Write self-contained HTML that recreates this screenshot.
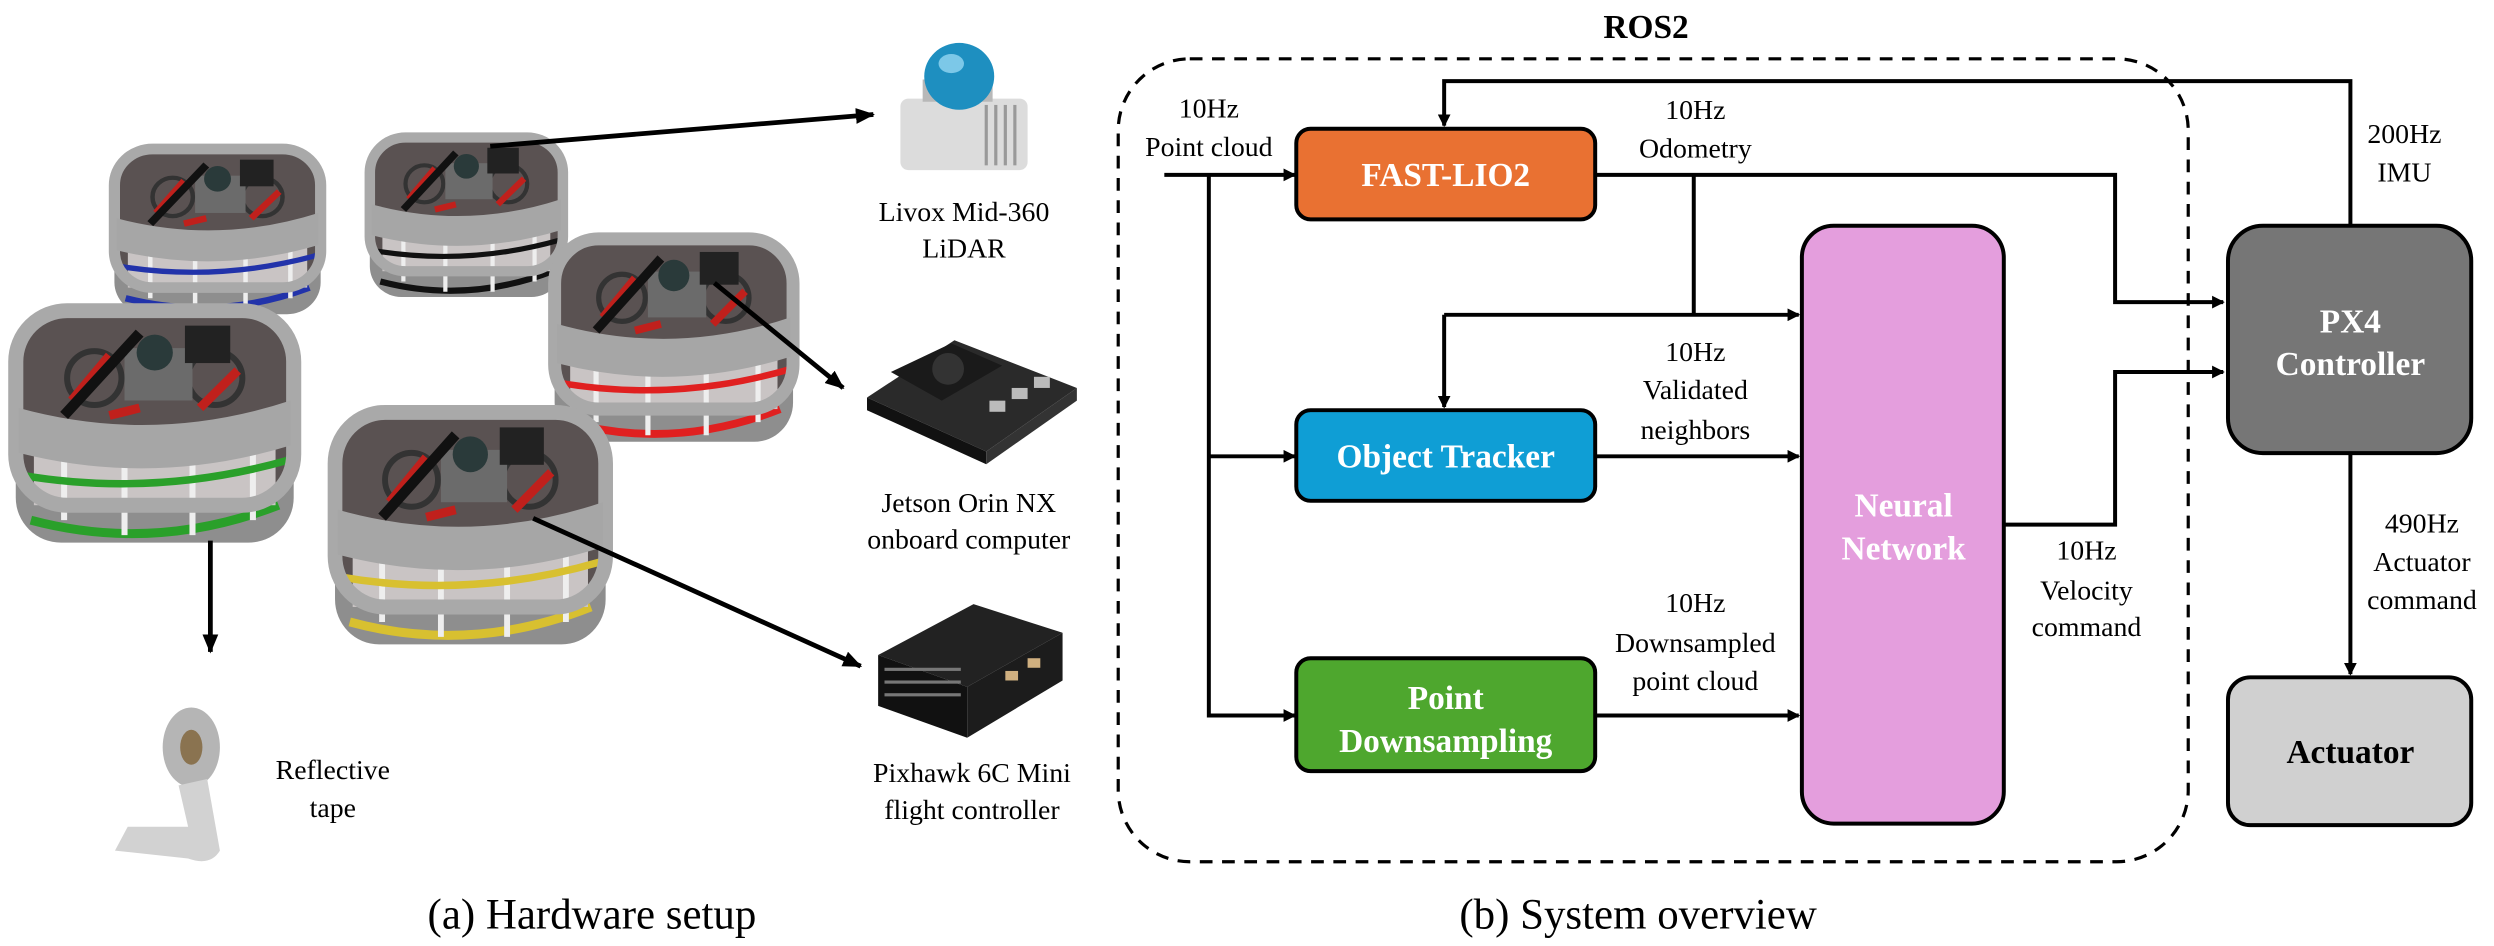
<!DOCTYPE html>
<html><head><meta charset="utf-8"><style>
html,body{margin:0;padding:0;background:#fff;}
svg{display:block;}
text{font-family:"Liberation Serif",serif;}
</style></head><body>
<svg width="2494" height="946" viewBox="0 0 1568 595" xmlns="http://www.w3.org/2000/svg">
<defs>
<marker id="ah" markerWidth="8" markerHeight="8" refX="7" refY="4" orient="auto" markerUnits="userSpaceOnUse">
<path d="M0,0 L8,4 L0,8 z" fill="#000"/></marker>
<marker id="ah2" markerWidth="12" markerHeight="10" refX="11" refY="5" orient="auto" markerUnits="userSpaceOnUse">
<path d="M0,0 L12,5 L0,10 z" fill="#000"/></marker>
<symbol id="drone" viewBox="0 0 200 170" preserveAspectRatio="none">
<rect x="8" y="85" width="184" height="80" rx="30" fill="#8e8e8e"/>
<path d="M18,150 Q100,172 182,140" stroke="currentColor" stroke-width="6" fill="none"/>
<rect x="8" y="10" width="184" height="130" rx="34" fill="#5a5252"/>
<rect x="20" y="95" width="160" height="45" fill="#c9c4c4"/>
<g stroke="#eee" stroke-width="4"><line x1="40" y1="95" x2="40" y2="150"/><line x1="80" y1="100" x2="80" y2="160"/><line x1="125" y1="100" x2="125" y2="160"/><line x1="165" y1="95" x2="165" y2="150"/></g>
<path d="M12,120 Q100,135 188,110" stroke="currentColor" stroke-width="5" fill="none"/>
<rect x="8" y="10" width="184" height="130" rx="34" fill="none" stroke="#a9a9a9" stroke-width="10"/>
<path d="M10,75 Q100,100 190,70 L190,100 Q100,128 10,105 z" fill="#a6a6a6"/>
<circle cx="60" cy="55" r="18" fill="none" stroke="#333" stroke-width="4"/>
<circle cx="140" cy="55" r="18" fill="none" stroke="#333" stroke-width="4"/>
<path d="M45,70 L70,40 M130,75 L155,50 M70,80 L90,75" stroke="#c0201c" stroke-width="6"/>
<rect x="80" y="35" width="45" height="35" fill="#6b6b6b"/>
<circle cx="100" cy="38" r="12" fill="#2a3a3a"/>
<rect x="120" y="20" width="30" height="25" fill="#222"/>
<line x1="40" y1="80" x2="90" y2="25" stroke="#111" stroke-width="7"/>
</symbol>
</defs>

<use href="#drone" x="66" y="87" width="141" height="114" style="color:#2233aa"/>
<use href="#drone" x="227" y="80" width="132" height="110" style="color:#111"/>
<use href="#drone" x="342" y="142" width="163" height="140" style="color:#e02020"/>
<use href="#drone" x="2" y="186" width="190" height="160" style="color:#2aa02a"/>
<use href="#drone" x="203" y="250" width="185" height="160" style="color:#d8c030"/>

<g>
<rect x="566" y="62" width="80" height="45" rx="5" fill="#dcdcdc"/>
<g stroke="#999" stroke-width="2"><line x1="620" y1="66" x2="620" y2="104"/><line x1="626" y1="66" x2="626" y2="104"/><line x1="632" y1="66" x2="632" y2="104"/><line x1="638" y1="66" x2="638" y2="104"/></g>
<rect x="580" y="50" width="44" height="14" fill="#b8b8b8"/>
<ellipse cx="603" cy="48" rx="22" ry="21" fill="#1e8fc0"/>
<ellipse cx="598" cy="40" rx="8" ry="6" fill="#7cc8e8"/>
</g>
<g>
<path d="M545,250 L600,214 L677,244 L620,284 z" fill="#2a2a2a"/>
<path d="M545,250 L620,284 L620,292 L545,258 z" fill="#111"/>
<path d="M620,284 L677,244 L677,252 L620,292 z" fill="#333"/>
<path d="M560,234 L598,216 L630,230 L592,252 z" fill="#1a1a1a"/>
<circle cx="596" cy="232" r="10" fill="#333"/>
<g fill="#bbb"><rect x="622" y="252" width="10" height="7"/><rect x="636" y="244" width="10" height="7"/><rect x="650" y="237" width="10" height="7"/></g>
</g>
<g>
<path d="M552,412 L612,380 L668,398 L608,432 z" fill="#222"/>
<path d="M552,412 L608,432 L608,464 L552,444 z" fill="#111"/>
<path d="M608,432 L668,398 L668,428 L608,464 z" fill="#1c1c1c"/>
<g fill="#777"><rect x="556" y="420" width="48" height="2"/><rect x="556" y="428" width="48" height="2"/><rect x="556" y="436" width="48" height="2"/></g>
<rect x="632" y="422" width="8" height="6" fill="#d0b080"/><rect x="646" y="414" width="8" height="6" fill="#d0b080"/>
</g>
<g>
<ellipse cx="120" cy="470" rx="18" ry="25" fill="#b5b5b5"/>
<ellipse cx="120" cy="470" rx="7" ry="11" fill="#8a7350"/>
<path d="M130,490 L138,535 Q132,545 118,540 L72,535 L80,520 L118,520 L112,494 z" fill="#d2d2d2"/>
</g>

<g stroke="#000" stroke-width="3" fill="none">
<line x1="308" y1="92" x2="549" y2="72" marker-end="url(#ah2)"/>
<line x1="449" y1="178" x2="530" y2="244" marker-end="url(#ah2)"/>
<line x1="335" y1="326" x2="541" y2="419" marker-end="url(#ah2)"/>
<line x1="132" y1="340" x2="132" y2="410" marker-end="url(#ah2)"/>
</g>

<g font-size="17.5" text-anchor="middle" fill="#000">
<text x="606" y="139">Livox Mid-360</text><text x="606" y="162">LiDAR</text>
<text x="609" y="322">Jetson Orin NX</text><text x="609" y="345">onboard computer</text>
<text x="611" y="492">Pixhawk 6C Mini</text><text x="611" y="515">flight controller</text>
<text x="209" y="490">Reflective</text><text x="209" y="514">tape</text>
</g>
<text x="372" y="584" font-size="27" text-anchor="middle">(a) Hardware setup</text>
<text x="1030" y="584" font-size="27" text-anchor="middle">(b) System overview</text>

<text x="1035" y="24" font-size="21" font-weight="bold" text-anchor="middle">ROS2</text>
<rect x="703" y="37" width="673" height="505" rx="45" fill="none" stroke="#000" stroke-width="2" stroke-dasharray="8,6"/>

<g stroke="#000" stroke-width="2.5" fill="none">
<line x1="732" y1="110" x2="814" y2="110" marker-end="url(#ah)"/>
<polyline points="760,110 760,450 814,450" marker-end="url(#ah)"/>
<line x1="760" y1="287" x2="814" y2="287" marker-end="url(#ah)"/>
<polyline points="1003,110 1330,110 1330,190 1398,190" marker-end="url(#ah)"/>
<line x1="1065" y1="110" x2="1065" y2="198"/>
<line x1="908" y1="198" x2="1131" y2="198" marker-end="url(#ah)"/>
<polyline points="908,198 908,256" marker-end="url(#ah)"/>
<line x1="1003" y1="287" x2="1131" y2="287" marker-end="url(#ah)"/>
<line x1="1003" y1="450" x2="1131" y2="450" marker-end="url(#ah)"/>
<polyline points="1260,330 1330,330 1330,234 1398,234" marker-end="url(#ah)"/>
<polyline points="1478,142 1478,51 908,51 908,79" marker-end="url(#ah)"/>
<line x1="1478" y1="285" x2="1478" y2="424" marker-end="url(#ah)"/>
</g>

<g stroke="#000" stroke-width="2.5">
<rect x="815" y="81" width="188" height="57" rx="9" fill="#E97132"/>
<rect x="815" y="258" width="188" height="57" rx="9" fill="#0F9ED5"/>
<rect x="815" y="414" width="188" height="71" rx="9" fill="#4EA72E"/>
<rect x="1133" y="142" width="127" height="376" rx="20" fill="#E49EDD"/>
<rect x="1401" y="142" width="153" height="143" rx="22" fill="#767676"/>
<rect x="1401" y="426" width="153" height="93" rx="14" fill="#D0D0D0"/>
</g>

<g font-size="21" font-weight="bold" text-anchor="middle" fill="#fff">
<text x="909" y="117">FAST-LIO2</text>
<text x="909" y="294">Object Tracker</text>
<text x="909" y="446">Point</text><text x="909" y="473">Downsampling</text>
<text x="1197" y="325">Neural</text><text x="1197" y="352">Network</text>
<text x="1478" y="209">PX4</text><text x="1478" y="236">Controller</text>
<text x="1478" y="480" fill="#000">Actuator</text>
</g>

<g font-size="17.5" text-anchor="middle" fill="#000">
<text x="760" y="74">10Hz</text><text x="760" y="98">Point cloud</text>
<text x="1066" y="75">10Hz</text><text x="1066" y="99">Odometry</text>
<text x="1066" y="227">10Hz</text><text x="1066" y="251">Validated</text><text x="1066" y="276">neighbors</text>
<text x="1066" y="385">10Hz</text><text x="1066" y="410">Downsampled</text><text x="1066" y="434">point cloud</text>
<text x="1312" y="352">10Hz</text><text x="1312" y="377">Velocity</text><text x="1312" y="400">command</text>
<text x="1512" y="90">200Hz</text><text x="1512" y="114">IMU</text>
<text x="1523" y="335">490Hz</text><text x="1523" y="359">Actuator</text><text x="1523" y="383">command</text>
</g>
</svg>
</body></html>
